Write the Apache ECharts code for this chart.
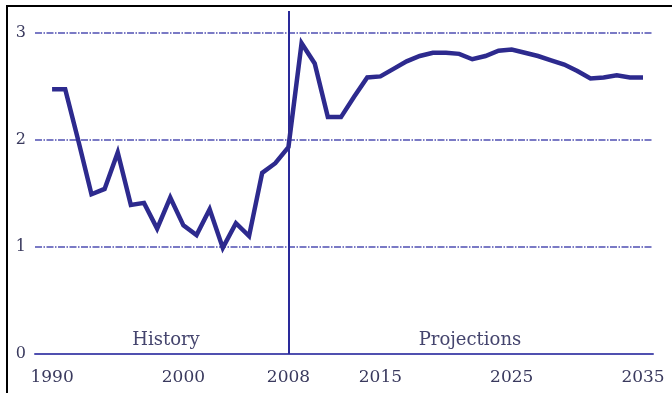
<!DOCTYPE html>
<html>
<head>
<meta charset="utf-8">
<script src="https://cdn.jsdelivr.net/npm/echarts@6/dist/echarts.min.js"></script>
<style>
  html, body { margin: 0; padding: 0; background: #fff; }
  #frame { position: absolute; left: 6px; top: 5px; width: 680px; height: 400px;
           border-top: 2px solid #000; border-left: 2px solid #000; }
  #chart { position: absolute; left: 0; top: 0; width: 672px; height: 393px; }
</style>
</head>
<body>
<div id="frame"></div>
<div id="chart"></div>
<script>
// Annual values, 1990-2008 history and 2009-2035 projections
const years = [];
for (let y = 1990; y <= 2035; y++) years.push(y);

const values = [
  2.47, 2.47, 1.99, 1.49, 1.54, 1.88, 1.39, 1.41, 1.17, 1.46,   // 1990-1999
  1.20, 1.11, 1.35, 0.99, 1.22, 1.10, 1.69, 1.78, 1.93, 2.90,   // 2000-2009
  2.71, 2.21, 2.21, 2.40, 2.58, 2.59, 2.66, 2.73, 2.78, 2.81,   // 2010-2019
  2.81, 2.80, 2.75, 2.78, 2.83, 2.84, 2.81, 2.78, 2.74, 2.70,   // 2020-2029
  2.64, 2.57, 2.58, 2.60, 2.58, 2.58                            // 2030-2035
];

const xTickLabels = [1990, 2000, 2008, 2015, 2025, 2035];
const yTickLabels = [0, 1, 2, 3];
const gridLevels = [1, 2, 3];
const splitYear = 2008;
const regionLabels = ['History', 'Projections'];

const lineColor = '#2d2a8e';
const gridColor = '#3c3caa';
const textColor = '#3a3a5e';
const fontFamily = '"DejaVu Serif", serif';

const chart = echarts.init(document.getElementById('chart'), null, { renderer: 'canvas' });

chart.setOption({
  animation: false,
  backgroundColor: 'transparent',
  grid: { left: 35, right: 19, top: 11, bottom: 39 },
  xAxis: {
    type: 'value',
    min: 1988.7,
    max: 2035.76,
    axisLine: { show: true, onZero: false, lineStyle: { color: '#5050b0', width: 2 } },
    axisTick: { show: false },
    splitLine: { show: false },
    axisLabel: {
      customValues: xTickLabels,
      margin: 15,
      color: textColor,
      fontFamily: fontFamily,
      fontSize: 17,
      formatter: v => String(v)
    }
  },
  yAxis: {
    type: 'value',
    min: 0,
    max: 3.2,
    axisLine: { show: false },
    axisTick: { show: false },
    splitLine: { show: false },
    axisLabel: {
      customValues: yTickLabels,
      margin: 9,
      color: textColor,
      fontFamily: fontFamily,
      fontSize: 16,
      formatter: v => String(v)
    }
  },
  series: [
    {
      type: 'line',
      data: years.map((y, i) => [y, values[i]]),
      showSymbol: false,
      symbol: 'none',
      lineStyle: { color: lineColor, width: 4.5, join: 'miter' },
      z: 5,
      markLine: {
        silent: true,
        symbol: 'none',
        label: { show: false },
        data: [
          ...gridLevels.map(v => ({
            yAxis: v,
            lineStyle: { color: gridColor, width: 1.5, type: [7, 1.5, 1.5, 1.5], opacity: 0.9 }
          })),
          { xAxis: splitYear, lineStyle: { color: '#2a2a9a', width: 2, type: 'solid' } }
        ]
      }
    }
  ],
  graphic: [
    {
      type: 'text', x: 166, y: 340, z: 10,
      style: { text: regionLabels[0], align: 'center', verticalAlign: 'middle',
               fill: '#45456e', font: '18px ' + fontFamily }
    },
    {
      type: 'text', x: 470, y: 340, z: 10,
      style: { text: regionLabels[1], align: 'center', verticalAlign: 'middle',
               fill: '#45456e', font: '18px ' + fontFamily }
    }
  ]
});
</script>
</body>
</html>
